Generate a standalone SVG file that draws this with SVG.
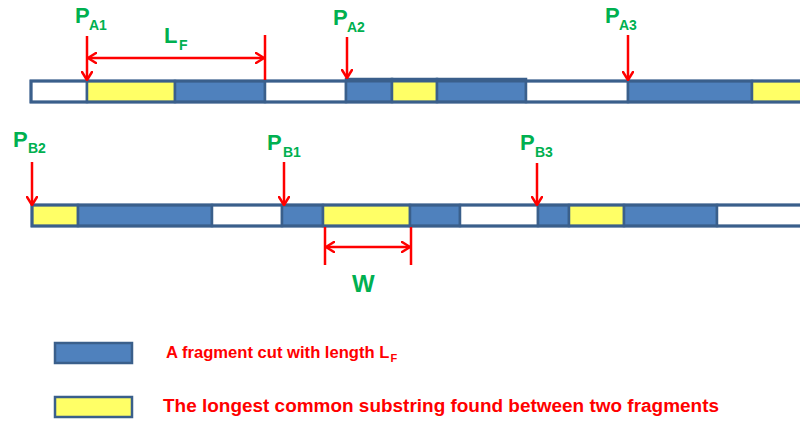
<svg xmlns="http://www.w3.org/2000/svg" width="800" height="425" viewBox="0 0 800 425">
  <style>
    .seg { stroke: #3A5F8B; stroke-width: 2.5; }
    .blue { fill: #4F81BD; }
    .yellow { fill: #FFFF66; }
    .white { fill: #FFFFFF; }
    .frame { fill: none; stroke: #3A5F8B; stroke-width: 3; }
    .red { stroke: #FF0000; stroke-width: 2.5; fill: none; }
    .lbl { font-family: "Liberation Sans", Arial, sans-serif; font-weight: bold; fill: #00B050; }
    .big { font-size: 22px; }
    .sub { font-size: 14px; }
    .leg { font-family: "Liberation Sans", Arial, sans-serif; font-weight: bold; fill: #FF0000; font-size: 18px; }
    .leg-sub { font-size: 11px; }
  </style>
  <defs>
    <marker id="head" viewBox="0 0 10 12" refX="9" refY="6" markerWidth="10" markerHeight="12" markerUnits="userSpaceOnUse" orient="auto-start-reverse">
      <path d="M1,1 L9,6 L1,11" fill="none" stroke="#FF0000" stroke-width="2.5" stroke-linecap="round" stroke-linejoin="round"/>
    </marker>
  </defs>
  <rect width="800" height="425" fill="#FFFFFF"/>

  <!-- Sequence A -->
  <g id="sequence-a">
    <rect class="seg white" x="31" y="81" width="56" height="21"/>
    <rect class="seg yellow" x="87" y="81" width="88" height="21"/>
    <rect class="seg blue" x="175" y="81" width="90" height="21"/>
    <rect class="seg white" x="265" y="81" width="81" height="21"/>
    <rect class="seg blue" x="346" y="79" width="46" height="23"/>
    <rect class="seg yellow" x="392" y="79" width="45" height="23"/>
    <rect class="seg blue" x="437" y="79" width="89" height="23"/>
    <rect class="seg white" x="526" y="81" width="102" height="21"/>
    <rect class="seg blue" x="628" y="81" width="124" height="21"/>
    <rect class="seg yellow" x="752" y="81" width="60" height="21"/>
    <rect class="frame" x="31" y="81" width="790" height="21"/>
  </g>

  <!-- Sequence B -->
  <g id="sequence-b">
    <rect class="seg yellow" x="32" y="205" width="46" height="21"/>
    <rect class="seg blue" x="78" y="205" width="134" height="21"/>
    <rect class="seg white" x="212" y="205" width="70" height="21"/>
    <rect class="seg blue" x="282" y="205" width="41" height="21"/>
    <rect class="seg yellow" x="323" y="205" width="87" height="21"/>
    <rect class="seg blue" x="410" y="205" width="50" height="21"/>
    <rect class="seg white" x="460" y="205" width="78" height="21"/>
    <rect class="seg blue" x="538" y="205" width="31" height="21"/>
    <rect class="seg yellow" x="569" y="205" width="55" height="21"/>
    <rect class="seg blue" x="624" y="205" width="93" height="21"/>
    <rect class="seg white" x="717" y="205" width="95" height="21"/>
    <rect class="frame" x="32" y="205" width="790" height="21"/>
  </g>

  <!-- Position labels -->
  <g id="label-pa1"><text class="lbl big" x="75" y="23">P</text><text class="lbl sub" x="89" y="30">A1</text></g>
  <g id="label-pa2"><text class="lbl big" x="333" y="25">P</text><text class="lbl sub" x="347" y="32">A2</text></g>
  <g id="label-pa3"><text class="lbl big" x="605" y="23">P</text><text class="lbl sub" x="619" y="30">A3</text></g>
  <g id="label-pb2"><text class="lbl big" x="13" y="147">P</text><text class="lbl sub" x="28" y="153">B2</text></g>
  <g id="label-pb1"><text class="lbl big" x="267" y="150">P</text><text class="lbl sub" x="283" y="157">B1</text></g>
  <g id="label-pb3"><text class="lbl big" x="520" y="150">P</text><text class="lbl sub" x="535" y="157">B3</text></g>
  <g id="label-lf"><text class="lbl big" x="164" y="43">L</text><text class="lbl sub" x="179" y="50">F</text></g>
  <g id="label-w"><text class="lbl" x="352" y="292" style="font-size:24px">W</text></g>

  <!-- Connectors: position arrows and dimension lines -->
  <g id="connectors">
    <line class="red" x1="87" y1="36" x2="87" y2="80" marker-end="url(#head)"/>
    <line class="red" x1="347" y1="37" x2="347" y2="78" marker-end="url(#head)"/>
    <line class="red" x1="628" y1="35" x2="628" y2="80" marker-end="url(#head)"/>
    <line class="red" x1="32" y1="162" x2="32" y2="205" marker-end="url(#head)"/>
    <line class="red" x1="284" y1="162" x2="284" y2="205" marker-end="url(#head)"/>
    <line class="red" x1="537" y1="163" x2="537" y2="205" marker-end="url(#head)"/>

    <line class="red" x1="265" y1="35" x2="265" y2="80"/>
    <line class="red" x1="88" y1="58" x2="264" y2="58" marker-start="url(#head)" marker-end="url(#head)"/>

    <line class="red" x1="325" y1="227" x2="325" y2="265"/>
    <line class="red" x1="411" y1="227" x2="411" y2="265"/>
    <line class="red" x1="326" y1="247" x2="410" y2="247" marker-start="url(#head)" marker-end="url(#head)"/>
  </g>

  <!-- Legend -->
  <g id="legend-fragment">
    <rect class="seg blue" x="55" y="343" width="77" height="20"/>
    <text class="leg" x="166" y="358" style="font-size:16.6px">A fragment cut with length L<tspan class="leg-sub" dx="1" dy="4">F</tspan></text>
  </g>
  <g id="legend-substring">
    <rect class="seg yellow" x="55" y="397" width="77" height="20"/>
    <text class="leg" x="163" y="412" textLength="556" lengthAdjust="spacingAndGlyphs">The longest common substring found between two fragments</text>
  </g>
</svg>
